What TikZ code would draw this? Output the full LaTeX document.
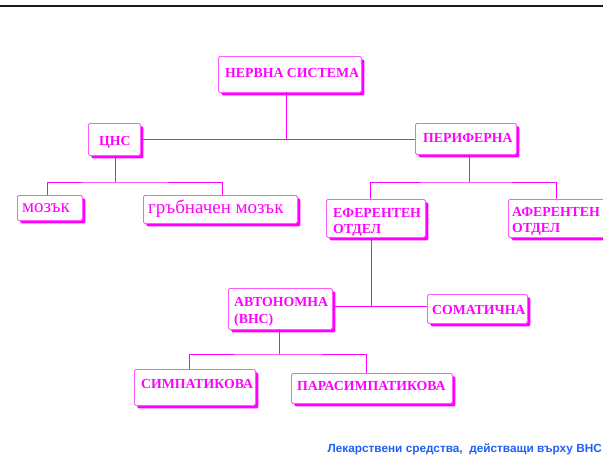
\documentclass[tikz,border=0pt]{standalone}
\usepackage{fontspec}
\setmainfont{Liberation Serif}
\newfontfamily\arialfont{Liberation Sans}
\usetikzlibrary{shadows}
\definecolor{mag}{RGB}{255,0,255}
\definecolor{boxline}{RGB}{255,90,255}
\definecolor{footblue}{RGB}{30,95,245}
\begin{document}
\begin{tikzpicture}[x=1pt,y=-1pt,
  box/.style={draw=boxline, line width=0.8pt, rounded corners=1.5pt, fill=white,
    inner sep=0pt, anchor=north west,
    drop shadow={shadow xshift=3pt, shadow yshift=-3pt, fill=mag, opacity=1}},
  capt/.style={text=mag, font=\fontsize{13.8}{16}\selectfont\bfseries, inner sep=0pt, anchor=base west},
  lowt/.style={text=mag, font=\fontsize{19}{22}\selectfont, inner sep=0pt, anchor=base west},
  link/.style={draw=mag, line width=0.8pt}]
\useasboundingbox (0,0) rectangle (603,455);
\clip (0,0) rectangle (603,455);
\draw[line width=2.5pt, black!90] (0,6) -- (603,6);

% boxes
\node[box, minimum width=143pt, minimum height=36pt] (nerv) at (218,56) {};
\node[box, minimum width=52pt, minimum height=32pt] (cns) at (88,123) {};
\node[box, minimum width=65pt, minimum height=25pt] (mozak) at (17,195) {};
\node[box, minimum width=154pt, minimum height=28pt] (grab) at (143,195) {};
\node[box, minimum width=101pt, minimum height=31pt] (per) at (415,123) {};
\node[box, minimum width=99pt, minimum height=38pt] (ef) at (326,199) {};
\node[box, minimum width=102pt, minimum height=38pt] (af) at (508,199) {};
\node[box, minimum width=104pt, minimum height=41pt] (avt) at (228,288) {};
\node[box, minimum width=100pt, minimum height=29pt] (som) at (427,294) {};
\node[box, minimum width=121pt, minimum height=36pt] (sim) at (134,369) {};
\node[box, minimum width=161pt, minimum height=30pt] (para) at (291,373) {};

% texts
\node[capt] (nervt) at (225,77) {НЕРВНА СИСТЕМА};
\node[capt] (cnst) at (99,145) {ЦНС};
\node[lowt] (mozakt) at (22,212) {мозък};
\node[lowt] (grabt) at (148,213) {гръбначен мозък};
\node[capt] (pert) at (423,142) {ПЕРИФЕРНА};
\node[capt] (eft1) at (333,217) {ЕФЕРЕНТЕН};
\node[capt] (eft2) at (333,233) {ОТДЕЛ};
\node[capt] (aft1) at (512,216) {АФЕРЕНТЕН};
\node[capt] (aft2) at (512,232) {ОТДЕЛ};
\node[capt] (avtt1) at (234,306) {АВТОНОМНА};
\node[capt] (avtt2) at (234,323) {(ВНС)};
\node[capt] (somt) at (432,314) {СОМАТИЧНА};
\node[capt] (simt) at (141,388) {СИМПАТИКОВА};
\node[capt] (parat) at (297,390) {ПАРАСИМПАТИКОВА};

% connectors
\coordinate (n0) at (286,92);
\draw[link] (n0) -- (n0 |- cns.east);
\draw[link] (cns.east) -- (cns.east -| per.west);

\coordinate (c0) at (115,155);
\coordinate (c1) at (115,182);
\draw[link] (c0) -- (c1);
\draw[link] (mozak.north -| 47,0) |- (c1) -| (grab.north -| 222,0);

\coordinate (p0) at (469,154);
\coordinate (p1) at (469,182);
\draw[link] (p0) -- (p1);
\draw[link] (ef.north -| 370,0) |- (p1) -| (af.north -| 556,0);

\coordinate (e0) at (371,238);
\coordinate (e1) at (371,306);
\draw[link] (e0) -- (e1);
\draw[link] (avt.east |- e1) -- (som.west |- e1);

\coordinate (a0) at (279,329);
\coordinate (a1) at (279,354);
\draw[link] (a0) -- (a1);
\draw[link] (sim.north -| 189,0) |- (a1) -| (para.north -| 366,0);

% footer
\node[text=footblue, font=\arialfont\fontsize{11.8}{14}\selectfont\bfseries, inner sep=0pt, anchor=base east] (foot) at (602,452) {Лекарствени средства,\ \ действащи върху ВНС};
\end{tikzpicture}
\end{document}
